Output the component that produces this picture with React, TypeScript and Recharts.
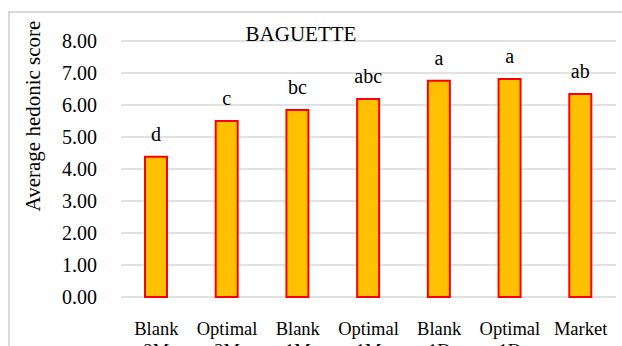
import React from "react";
import { BarChart, Bar, XAxis, YAxis, CartesianGrid, LabelList, Customized } from "recharts";

const categories = ["Blank 2M", "Optimal 2M", "Blank 1M", "Optimal 1M", "Blank 1D", "Optimal 1D", "Market"];
const scores = [4.38, 5.5, 5.84, 6.19, 6.76, 6.81, 6.34];
const letters = ["d", "c", "bc", "abc", "a", "a", "ab"];
const yTicks = [0, 1, 2, 3, 4, 5, 6, 7, 8];
const chartTitle = "BAGUETTE";
const yTitle = "Average hedonic score";

const data = categories.map((c, i) => ({ name: c, score: scores[i], letter: letters[i] }));

const FONT = "Liberation Serif";

const XTick = (props: any) => {
  const { x, y, payload } = props;
  const parts = String(payload.value).split(" ");
  return (
    <text x={x} y={y} textAnchor="middle" style={{ fontFamily: FONT, fontSize: 18.5 }} fill="#000">
      {parts.map((p: string, i: number) => (
        <tspan key={i} x={x} dy={i === 0 ? 30 : 22}>
          {p}
        </tspan>
      ))}
    </text>
  );
};

const Titles = () => (
  <g>
    <text x={301} y={41} textAnchor="middle" style={{ fontFamily: FONT, fontSize: 21 }} fill="#000">
      {chartTitle}
    </text>
    <text
      x={0}
      y={0}
      transform="translate(40,116) rotate(-90)"
      textAnchor="middle"
      style={{ fontFamily: FONT, fontSize: 21 }}
      fill="#000"
    >
      {yTitle}
    </text>
  </g>
);

export default function App() {
  return (
    <div style={{ position: "absolute", left: 0, top: 0, width: 622, height: 346, overflow: "hidden", background: "#fff", fontFamily: FONT }}>
      <div
        style={{
          position: "absolute",
          left: 8,
          top: 11,
          width: 700,
          height: 400,
          border: "2px solid #d9d9d9",
          boxSizing: "border-box",
        }}
      />
      <div style={{ position: "absolute", left: 0, top: 0 }}>
        <BarChart width={622} height={346} data={data} margin={{ top: 41, right: 6, bottom: 0, left: 0 }} style={{ fontFamily: FONT }}>
          <CartesianGrid vertical={false} stroke="#d9d9d9" strokeWidth={1.5} />
          <XAxis
            dataKey="name"
            axisLine={false}
            tickLine={false}
            height={49}
            interval={0}
            tick={<XTick />}
          />
          <YAxis
            domain={[0, 8]}
            ticks={yTicks}
            width={121}
            axisLine={false}
            tickLine={false}
            tickSize={0}
            tickMargin={24}
            tickFormatter={(v: number) => v.toFixed(2)}
            tick={{ fontFamily: FONT, fontSize: 20, fill: "#000", style: { fontFamily: FONT } }}
          />
          <Bar dataKey="score" fill="#FFC000" stroke="#FF0000" strokeWidth={2} barSize={22} isAnimationActive={false}>
            <LabelList dataKey="letter" position="top" offset={16} fontFamily={FONT} fontSize={20} fill="#000" style={{ fontFamily: FONT }} />
          </Bar>
          <Customized component={Titles} />
        </BarChart>
      </div>
    </div>
  );
}
